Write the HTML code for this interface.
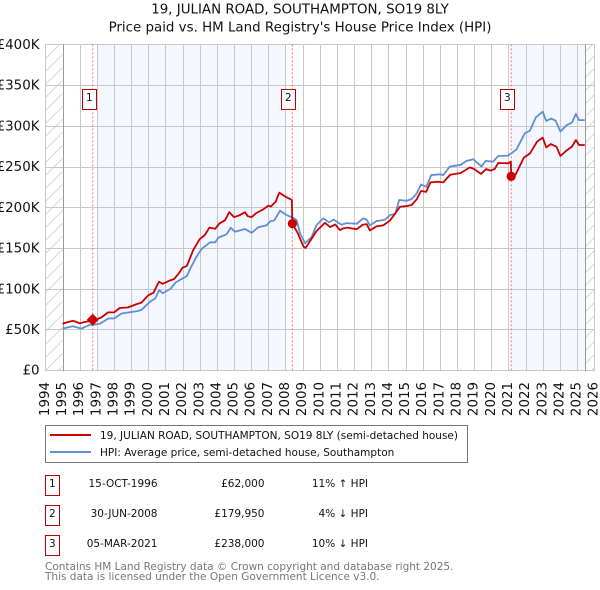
<!DOCTYPE html>
<html lang="en">
<head>
<meta charset="utf-8">
<title>19, Julian Road price paid vs HPI</title>
<style>
html,body{margin:0;padding:0;background:#fff;}
body{width:600px;height:590px;overflow:hidden;}
svg{display:block;font-family:"DejaVu Sans","Liberation Sans",sans-serif;}
text{fill:#111;}
</style>
</head>
<body>
<svg id="chart" xmlns="http://www.w3.org/2000/svg" width="600" height="590" viewBox="0 0 600 590">
<defs>
<pattern id="hatch" patternUnits="userSpaceOnUse" width="13" height="13">
<path d="M-1 14 L14 -1" stroke="#d8d8d8" stroke-width="1" fill="none"/>
</pattern>
</defs>
<text x="300" y="13.5" text-anchor="middle" font-size="13.4">19, JULIAN ROAD, SOUTHAMPTON, SO19 8LY</text>
<text x="300" y="31.5" text-anchor="middle" font-size="13.4">Price paid vs. HM Land Registry's House Price Index (HPI)</text>
<g id="plot"></g>

<g>
<rect x="45.5" y="425.5" width="422" height="37" fill="#fff" stroke="#777" stroke-width="1"/>
<line x1="50" x2="91" y1="435" y2="435" stroke="#cc0000" stroke-width="2"/>
<text x="100" y="439" font-size="10.5">19, JULIAN ROAD, SOUTHAMPTON, SO19 8LY (semi-detached house)</text>
<line x1="50" x2="91" y1="452" y2="452" stroke="#5f8fd6" stroke-width="2"/>
<text x="100" y="456" font-size="10.5">HPI: Average price, semi-detached house, Southampton</text>
</g>

<g font-size="10.5">
<g>
<rect x="45.5" y="475.5" width="14" height="20" fill="#fff" stroke="#c00000" stroke-width="1"/>
<text x="52.3" y="487" text-anchor="middle">1</text>
<text x="157.5" y="487" text-anchor="end">15-OCT-1996</text>
<text x="264.5" y="487" text-anchor="end">£62,000</text>
<text x="368" y="487" text-anchor="end">11% ↑ HPI</text>
</g>
<g>
<rect x="45.5" y="505.5" width="14" height="20" fill="#fff" stroke="#c00000" stroke-width="1"/>
<text x="52.3" y="517" text-anchor="middle">2</text>
<text x="157.5" y="517" text-anchor="end">30-JUN-2008</text>
<text x="264.5" y="517" text-anchor="end">£179,950</text>
<text x="368" y="517" text-anchor="end">4% ↓ HPI</text>
</g>
<g>
<rect x="45.5" y="535.5" width="14" height="20" fill="#fff" stroke="#c00000" stroke-width="1"/>
<text x="52.3" y="547" text-anchor="middle">3</text>
<text x="157.5" y="547" text-anchor="end">05-MAR-2021</text>
<text x="264.5" y="547" text-anchor="end">£238,000</text>
<text x="368" y="547" text-anchor="end">10% ↓ HPI</text>
</g>
</g>

<text x="45" y="570" font-size="10.5" style="fill:#777">Contains HM Land Registry data © Crown copyright and database right 2025.</text>
<text x="45" y="580" font-size="10.5" style="fill:#777">This data is licensed under the Open Government Licence v3.0.</text>
</svg>
<script>
const yearTicks = [1994,1995,1996,1997,1998,1999,2000,2001,2002,2003,2004,2005,2006,2007,2008,2009,2010,2011,2012,2013,2014,2015,2016,2017,2018,2019,2020,2021,2022,2023,2024,2025,2026];
const valueTicks = [0,50,100,150,200,250,300,350,400];
const valueTickLabels = ['£0','£50K','£100K','£150K','£200K','£250K','£300K','£350K','£400K'];
const priceDates = [1995,1995.3,1995.6,1995.72,1996,1996.25,1996.5,1996.76,1997,1997.28,1997.65,1998,1998.35,1998.8,1999.3,1999.6,2000,2000.3,2000.62,2000.84,2001.25,2001.5,2001.75,2002,2002.25,2002.62,2003,2003.3,2003.56,2003.9,2004.14,2004.47,2004.72,2005,2005.3,2005.64,2005.8,2006.03,2006.3,2006.7,2007,2007.15,2007.43,2007.64,2008,2008.37,2008.4,2008.72,2009.04,2009.17,2009.5,2009.8,2010.3,2010.6,2010.9,2011.17,2011.35,2011.6,2012.15,2012.5,2012.73,2012.92,2013.3,2013.7,2014.1,2014.4,2014.67,2015.06,2015.35,2015.65,2015.9,2016.2,2016.45,2016.9,2017.2,2017.6,2018.2,2018.75,2019,2019.4,2019.7,2019.95,2020.2,2020.4,2020.98,2021.14,2021.16,2021.4,2021.9,2022.25,2022.67,2023,2023.2,2023.47,2023.8,2024.03,2024.4,2024.7,2024.93,2025.12,2025.45];
const priceValues = [57,59,60.6,60,57.5,59,60,62,62.5,65,71,71,76.5,77,81,83,92,95,108.6,106,110,112,118,126,128,147.5,161,166,175,173.6,180,184,194,188,190,194,189,188,193,197.4,202,201,207,218,213,209,179.95,168,152,150,160.6,170.6,181,175.7,179,172,174,175,173,178.6,179.4,171.6,176.6,177.8,184,192.5,200.7,201.5,202.8,209.8,220,219,230.6,231.4,230.6,240,242,249,247,241,247,245,247,254.4,254,256,238,239.6,261,266,280.6,285.5,273.6,277.7,274.4,263,270,274.4,282.6,276.5,276.5];
const hpiDates = [1995,1995.6,1996.1,1996.5,1997.18,1997.67,1998,1998.44,1999.4,1999.6,2000.1,2000.4,2000.64,2000.84,2001.3,2001.6,2002,2002.25,2002.43,2002.8,2003.1,2003.6,2003.9,2004.08,2004.57,2004.8,2005.05,2005.64,2006.03,2006.4,2006.9,2007.1,2007.35,2007.68,2008.06,2008.45,2008.65,2008.85,2009.14,2009.53,2009.8,2010.2,2010.55,2010.8,2011.27,2011.56,2012.15,2012.53,2012.73,2012.92,2013.3,2013.8,2014.1,2014.4,2014.63,2015.06,2015.35,2015.65,2015.9,2016.2,2016.5,2017,2017.2,2017.58,2018.2,2018.55,2018.95,2019.43,2019.67,2020.1,2020.4,2020.98,2021.47,2021.95,2022.25,2022.6,2023,2023.2,2023.5,2023.75,2024.03,2024.4,2024.7,2024.93,2025.12,2025.45];
const hpiValues = [51,54,51,55,57,63.5,63.5,69.6,72.7,74,84,88,98.4,94.5,100,107.8,112.7,115.5,124,139,148.7,157,157,162.6,167,175,170,173.3,168.7,175.3,178,182.7,184,195.8,190.5,187,184.3,168,155.7,163.8,178,186.4,181.5,185,178.6,180.6,179.8,186.4,185,177.8,183,184.7,190.5,192,209,208,210,217,228,225,239.6,240.5,239.6,250,252,256.8,259,250,257,256,263,263.4,271,290.8,294,310.5,317.4,306,309,306.4,293,301,304,314.6,307,307];
const saleDates = [1996.76,2008.4,2021.16];
const saleValues = [62,179.95,238];
const saleLabels = ['1','2','3'];
const saleMarkerKinds = ['diamond','circle','circle'];
const shadedSpans = [[1997,2008],[2021.16,2025.45]];
const hatchedSpans = [[1994,1995],[2025.45,2026]];

const NS = 'http://www.w3.org/2000/svg';
const plot = document.getElementById('plot');
const X0 = 45.4, XPER = 17.15, Y0 = 370.2, YPER = 0.8145;
function xAxis(year){ return X0 + (year - 1994) * XPER; }
function yAxis(k){ return Y0 - k * YPER; }
function make(tag, attrs){
  const el = document.createElementNS(NS, tag);
  for (const k in attrs) el.setAttribute(k, attrs[k]);
  plot.appendChild(el);
  return el;
}
function pathFrom(dates, values){
  return dates.map((d,i)=>(i?'L':'M')+xAxis(d).toFixed(2)+' '+yAxis(values[i]).toFixed(2)).join(' ');
}
const top_ = yAxis(400), bottom_ = yAxis(0);

shadedSpans.forEach((s,i)=>{
  const el = make('rect',{x:xAxis(s[0]),y:top_,width:xAxis(s[1])-xAxis(s[0]),height:bottom_-top_,fill:'#f4f7fe'});
  
  
});
hatchedSpans.forEach((s,i)=>{
  const el = make('rect',{x:xAxis(s[0]),y:top_,width:xAxis(s[1])-xAxis(s[0]),height:bottom_-top_,fill:'url(#hatch)'});
  
  
});
yearTicks.forEach(y=>{
  const px = Math.round(xAxis(y)) + 0.5;
  const el = make('line',{x1:px,x2:px,y1:top_,y2:bottom_+1,stroke:'#c8c8c8','stroke-width':1});
  
  
  const t = make('text',{x:0,y:0,'font-size':13.4,'text-anchor':'end','dominant-baseline':'central',transform:'translate('+xAxis(y)+' 382) rotate(-90)'});
  t.textContent = y;
  
  
});
valueTicks.forEach((v,i)=>{
  const py = Math.round(yAxis(v)) + 0.5;
  const el = make('line',{x1:xAxis(1994),x2:xAxis(2026),y1:py,y2:py,stroke:'#c8c8c8','stroke-width':1});
  
  
  const t = make('text',{x:39.5,y:yAxis(v)+4.5,'font-size':13.4,'text-anchor':'end'});
  t.textContent = valueTickLabels[i];
  
  
});
[1995,2025.45].forEach((y,i)=>{
  const px = Math.round(xAxis(y)) + 0.5;
  const el = make('line',{x1:px,x2:px,y1:top_,y2:bottom_+1,stroke:'#999','stroke-width':1});
  
  
});
saleDates.forEach((d,i)=>{
  const el = make('line',{x1:xAxis(d),x2:xAxis(d),y1:top_,y2:bottom_,stroke:'#f5707a','stroke-width':1,'stroke-dasharray':'2 2'});
  
  
});
const hpiLine = make('path',{d:pathFrom(hpiDates,hpiValues),fill:'none',stroke:'#5f8fd6','stroke-width':1.8,'stroke-linejoin':'round'});


const priceLine = make('path',{d:pathFrom(priceDates,priceValues),fill:'none',stroke:'#cc0000','stroke-width':1.8,'stroke-linejoin':'round'});


saleDates.forEach((d,i)=>{
  const cx = xAxis(d), cy = yAxis(saleValues[i]);
  let m;
  if (saleMarkerKinds[i] === 'diamond') {
    m = make('polygon',{points:[[cx,cy-6],[cx+6,cy],[cx,cy+6],[cx-6,cy]].map(p=>p.join(',')).join(' '),fill:'#cc0000'});
  } else {
    m = make('circle',{cx:cx,cy:cy,r:4.6,fill:'#cc0000'});
  }
  
  
  const bx = Math.round(cx) - 10.5;
  const b = make('rect',{x:bx,y:89.5,width:14,height:20,fill:'#fff',stroke:'#c00000','stroke-width':1});
  
  
  const t = make('text',{x:bx+6.8,y:101,'font-size':10.5,'text-anchor':'middle'});
  t.textContent = saleLabels[i];
  
  
});
</script>
</body>
</html>
